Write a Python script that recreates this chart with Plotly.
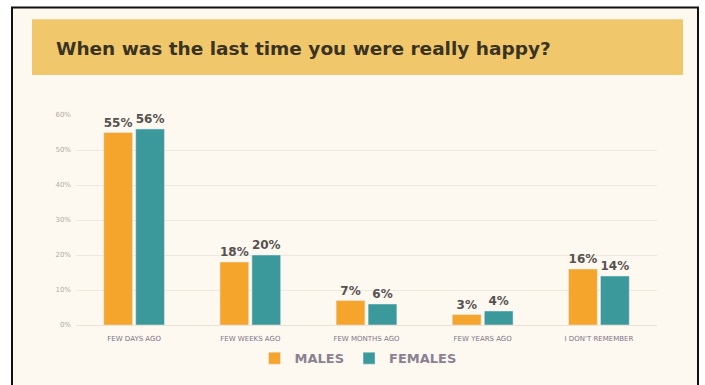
import plotly.graph_objects as go

# Survey answers, percent of respondents
categories = ["FEW DAYS AGO", "FEW WEEKS AGO", "FEW MONTHS AGO", "FEW YEARS AGO", "I DON'T REMEMBER"]
males = [55, 18, 7, 3, 16]
females = [56, 20, 6, 4, 14]
y_ticks = [0, 10, 20, 30, 40, 50, 60]
y_tick_text = ["0%", "10%", "20%", "30%", "40%", "50%", "60%"]

title_text = "When was the last time you were really happy?"

W, H = 705, 385
ML, MR, MT, MB = 76, 48, 115, 55
PW, PH = W - ML - MR, H - MT - MB


def px_x(p):
    return (p - ML) / PW


def px_y(p):
    return (H - MB - p) / PH


ORANGE = "#f5a42c"
TEAL = "#3b999c"
LABEL_FONT = dict(family="DejaVu Sans", size=12, color="#57514f")

fig = go.Figure()
for name, vals, color in [("MALES", males, ORANGE), ("FEMALES", females, TEAL)]:
    fig.add_trace(go.Bar(
        name=name, x=categories, y=vals, marker_color=color,
        text=[f"{v}%" for v in vals], texttemplate="<b>%{text}</b>",
        textposition="outside", textfont=LABEL_FONT,
        constraintext="none", cliponaxis=False,
    ))

# page frame and title banner
fig.add_shape(type="rect", xref="paper", yref="paper", layer="below",
              x0=px_x(12), x1=px_x(698), y0=px_y(400), y1=px_y(5),
              fillcolor="#fdf9f1", line=dict(color="#111111", width=2))
fig.add_shape(type="rect", xref="paper", yref="paper", layer="below",
              x0=px_x(32), x1=px_x(683), y0=px_y(74), y1=px_y(17),
              fillcolor="#f0c86b", line=dict(width=0))
fig.add_annotation(text="<b>" + title_text + "</b>", xref="paper", yref="paper",
                   x=px_x(54), y=px_y(47), xanchor="left", yanchor="middle",
                   showarrow=False,
                   font=dict(family="DejaVu Sans", size=18.5, color="#3b3322"))

fig.update_layout(
    width=W, height=H,
    margin=dict(l=ML, r=MR, t=MT, b=MB, pad=0),
    paper_bgcolor="#ffffff",
    plot_bgcolor="rgba(0,0,0,0)",
    barmode="group", bargap=0.45, bargroupgap=0.1,
    showlegend=True,
    legend=dict(orientation="h", x=px_x(358), y=px_y(364),
                xanchor="center", yanchor="middle",
                font=dict(family="DejaVu Sans", size=13, color="#8c8192", weight="bold"),
                traceorder="normal", bgcolor="rgba(0,0,0,0)"),
    xaxis=dict(showgrid=False, showline=False, ticks="", ticklabelstandoff=8,
               tickfont=dict(family="DejaVu Sans", size=7, color="#7f7389")),
    yaxis=dict(range=[0, 60], tickvals=y_ticks, ticktext=y_tick_text,
               showgrid=True, gridcolor="#efe9dd", gridwidth=1,
               zeroline=True, zerolinecolor="#ebe4d6", zerolinewidth=1,
               showline=False, ticks="", ticklabelstandoff=4,
               tickfont=dict(family="DejaVu Sans", size=7, color="#b3aaa3")),
)

fig.write_html("out.html")
